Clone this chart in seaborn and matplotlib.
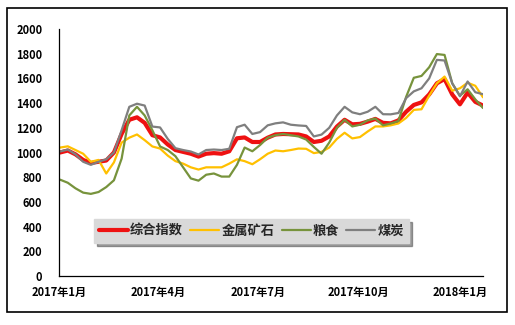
import matplotlib
matplotlib.use("Agg")
import matplotlib.pyplot as plt
from matplotlib.patches import Rectangle
import numpy as np
import pandas as pd
import seaborn as sns

# Weekly index values, January 2017 - January 2018
weeks = pd.date_range("2017-01-02", periods=56, freq="7D")

composite = [1000, 1016, 985, 940, 915, 925, 935, 1000, 1150, 1265,
             1285, 1240, 1140, 1122, 1065, 1020, 1005, 990, 967, 990,
             995, 990, 1010, 1115, 1122, 1085, 1085, 1120, 1146, 1150,
             1148, 1146, 1130, 1085, 1095, 1130, 1210, 1265, 1228, 1232,
             1250, 1272, 1240, 1236, 1260, 1330, 1385, 1406, 1470, 1560,
             1595, 1470, 1390, 1485, 1410, 1380]

metal_ore = [1040, 1050, 1020, 990, 925, 940, 830, 920, 1080, 1120,
             1146, 1100, 1049, 1032, 975, 930, 910, 880, 862, 880,
             880, 880, 910, 945, 930, 905, 945, 990, 1016, 1010,
             1020, 1032, 1030, 995, 1005, 1040, 1110, 1160, 1114, 1125,
             1170, 1211, 1211, 1220, 1235, 1280, 1345, 1350, 1460, 1560,
             1615, 1500, 1520, 1565, 1540, 1447]

grain = [780, 755, 710, 675, 665, 680, 720, 775, 950, 1300,
         1370, 1300, 1180, 1049, 1020, 970, 880, 790, 772, 820,
         830, 805, 805, 900, 1040, 1010, 1060, 1120, 1140, 1150,
         1140, 1130, 1105, 1045, 990, 1080, 1200, 1265, 1211, 1225,
         1260, 1275, 1220, 1235, 1255, 1450, 1605, 1620, 1690, 1797,
         1790, 1560, 1460, 1512, 1430, 1360]

coal = [1008, 1024, 985, 925, 900, 925, 945, 1000, 1180, 1370,
        1395, 1380, 1210, 1203, 1110, 1035, 1020, 1008, 984, 1020,
        1024, 1020, 1030, 1205, 1225, 1150, 1165, 1220, 1236, 1244,
        1225, 1219, 1215, 1130, 1145, 1200, 1300, 1370, 1325, 1310,
        1330, 1370, 1310, 1309, 1320, 1440, 1495, 1520, 1600, 1750,
        1745, 1560, 1455, 1575, 1488, 1472]

series_names = ["综合指数", "金属矿石", "粮食", "煤炭"]
series_values = [composite, metal_ore, grain, coal]
series_colors = ["#ee1111", "#ffc000", "#77933c", "#7f7f7f"]
series_widths = [3.0, 1.6, 1.6, 1.6]

tick_dates = pd.to_datetime(["2017-01-01", "2017-04-01", "2017-07-01",
                             "2017-10-01", "2018-01-01"])
tick_labels = ["2017年1月", "2017年4月", "2017年7月", "2017年10月", "2018年1月"]
y_ticks = list(range(0, 2001, 200))

df = pd.DataFrame({
    "date": np.tile(weeks, len(series_names)),
    "value": np.concatenate(series_values),
    "series": np.repeat(series_names, len(weeks)),
})

sns.set_style("white")
plt.rcParams["font.family"] = ["Noto Sans CJK SC", "DejaVu Sans"]
plt.rcParams["font.weight"] = "bold"

fig = plt.figure(figsize=(5.15, 3.25), dpi=100)
ax = fig.add_axes([59 / 515, 1 - 276 / 325, (483 - 59) / 515, (276 - 29) / 325])

for name, color, lw in zip(series_names, series_colors, series_widths):
    sns.lineplot(data=df[df["series"] == name], x="date", y="value",
                 color=color, linewidth=lw, label=name, ax=ax,
                 solid_joinstyle="round", solid_capstyle="round")

ax.set_xlim(pd.Timestamp("2017-01-01"), pd.Timestamp("2018-01-22"))
ax.set_ylim(0, 2000)
ax.set_xticks(tick_dates)
ax.set_xticklabels(tick_labels, fontsize=8, fontweight="bold")
ax.set_yticks(y_ticks)
ax.set_yticklabels([str(v) for v in y_ticks], fontsize=8, fontweight="bold")
ax.set_xlabel("")
ax.set_ylabel("")
ax.tick_params(axis="both", direction="in", length=3, width=0.8,
               colors="black")
ax.tick_params(axis="x", pad=7)
ax.tick_params(axis="y", pad=12)
for side in ["top", "right"]:
    ax.spines[side].set_visible(False)
for side in ["left", "bottom"]:
    ax.spines[side].set_color("black")
    ax.spines[side].set_linewidth(0.9)

leg = ax.legend(loc="center", bbox_to_anchor=(0.454, 0.182), ncol=4,
                frameon=True, fancybox=False, shadow=True,
                prop={"size": 9.5, "weight": "bold"},
                handlelength=2.2, handletextpad=0.15, columnspacing=0.55,
                borderpad=0.4, borderaxespad=0)
leg.get_frame().set_facecolor("#d9d9d9")
leg.get_frame().set_edgecolor("#d9d9d9")
leg.get_frame().set_alpha(1)

# Outer border around the whole chart
fig.patches.append(Rectangle((7 / 515, 1 - 312 / 325), 500 / 515, 304 / 325,
                             transform=fig.transFigure, fill=False,
                             edgecolor="black", linewidth=1.2))

fig.savefig("out.png", dpi=100)
